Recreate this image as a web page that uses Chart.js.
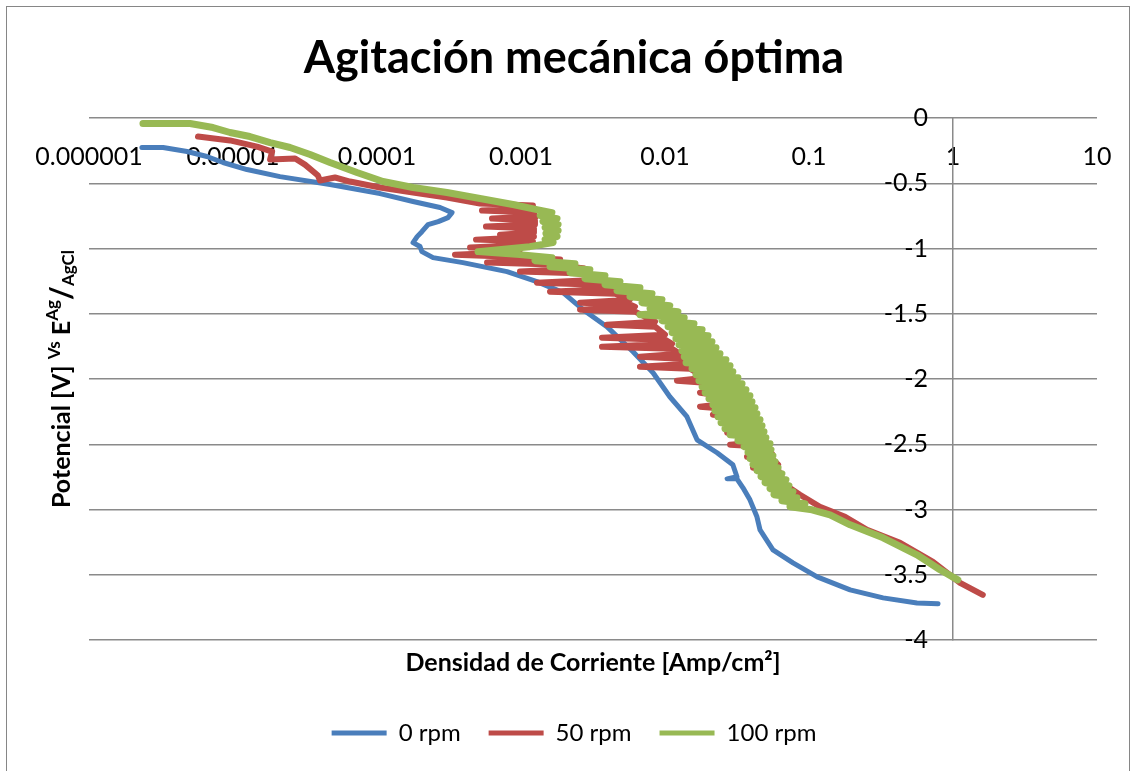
<!DOCTYPE html>
<html>
<head>
<meta charset="utf-8">
<title>Agitación mecánica óptima</title>
<script src="https://cdn.jsdelivr.net/npm/chart.js@4.4.1/dist/chart.umd.min.js"></script>
<style>
  html, body { margin: 0; padding: 0; background: #fff; }
  #wrap { width: 1135px; height: 771px; }
</style>
</head>
<body>
<div id="wrap"><canvas id="polarChart"></canvas></div>
<script>
// current density ticks (log axis) and their printed labels
const xTicks = [0.000001, 0.00001, 0.0001, 0.001, 0.01, 0.1, 1, 10];
const xTickLabels = ['0.000001', '0.00001', '0.0001', '0.001', '0.01', '0.1', '1', '10'];
const seriesNames = ['0 rpm', '50 rpm', '100 rpm'];

// 0 rpm: current density [A/cm2] and potential [V]
const current0 = [2.33e-6, 3.27e-6, 4.80e-6, 6.59e-6, 8.53e-6, 1.25e-5, 2.12e-5, 4.72e-5, 1.05e-4, 1.78e-4,
  2.74e-4, 3.32e-4, 3.11e-4, 2.66e-4, 2.26e-4, 2.05e-4, 1.90e-4, 1.78e-4, 1.99e-4, 2.05e-4,
  2.45e-4, 3.95e-4, 8.0e-4, 1.29e-3, 1.96e-3, 2.70e-3, 3.95e-3, 6.0e-3, 8.26e-3, 1.08e-2,
  1.42e-2, 1.67e-2, 2.30e-2, 2.96e-2, 3.16e-2, 2.70e-2, 3.16e-2, 3.48e-2, 3.89e-2, 4.35e-2,
  4.57e-2, 5.62e-2, 7.74e-2, 0.114, 0.193, 0.327, 0.562, 0.787];
const potential0 = [-0.226, -0.226, -0.257, -0.295, -0.341, -0.395, -0.449, -0.510, -0.579, -0.640,
  -0.686, -0.725, -0.763, -0.794, -0.817, -0.871, -0.909, -0.955, -0.985, -1.024,
  -1.070, -1.108, -1.177, -1.254, -1.338, -1.469, -1.599, -1.791, -1.952, -2.136,
  -2.289, -2.466, -2.565, -2.657, -2.749, -2.765, -2.765, -2.834, -2.926, -3.056,
  -3.156, -3.309, -3.409, -3.516, -3.616, -3.677, -3.716, -3.723];

// 50 rpm
const current50 = [5.71e-6, 9.53e-6, 1.47e-5, 1.87e-5, 1.81e-5, 2.70e-5, 3.16e-5, 3.89e-5, 4.02e-5, 5.11e-5,
  6.49e-5, 1.05e-4, 1.78e-4, 3.06e-4, 5.19e-4,
  1.21e-3, 1.21e-3, 5.36e-4, 1.21e-3, 1.27e-3, 6.29e-4, 1.25e-3, 1.25e-3, 5.71e-4, 1.23e-3,
  1.23e-3, 7.15e-4, 1.23e-3, 4.87e-4, 1.21e-3, 1.21e-3, 4.43e-4, 9.84e-4, 7.74e-4, 3.48e-4, 7.74e-4,
  1.87e-3, 5.81e-4, 1.87e-3, 2.78e-3, 9.84e-4, 2.78e-3, 3.43e-3, 1.29e-3, 3.43e-3,
  4.50e-3, 1.59e-3, 4.50e-3, 5.71e-3, 2.57e-3, 5.71e-3, 6.19e-3, 2.57e-3, 6.19e-3,
  8.53e-3, 3.95e-3, 8.53e-3, 1.0e-2, 3.65e-3, 1.0e-2, 1.12e-2, 3.65e-3, 1.12e-2,
  1.27e-2, 6.70e-3, 1.27e-2, 1.49e-2, 6.70e-3, 1.49e-2, 1.90e-2, 1.21e-2, 1.90e-2,
  2.22e-2, 1.75e-2, 2.22e-2, 2.61e-2, 1.75e-2, 2.61e-2, 3.89e-2, 2.15e-2, 3.89e-2,
  4.57e-2, 2.70e-2, 4.57e-2, 5.02e-2, 2.83e-2, 5.02e-2, 5.53e-2, 3.71e-2, 5.53e-2,
  6.10e-2, 4.08e-2, 6.10e-2,
  6.81e-2, 8.66e-2, 0.119, 0.178, 0.253, 0.429, 0.726, 1.12, 1.61];
const potential50 = [-0.142, -0.172, -0.219, -0.257, -0.318, -0.310, -0.357, -0.441, -0.479, -0.456,
  -0.487, -0.533, -0.571, -0.610, -0.656,
  -0.671, -0.694, -0.709, -0.725, -0.755, -0.771, -0.786, -0.817, -0.832, -0.847,
  -0.878, -0.894, -0.909, -0.932, -0.947, -0.970, -0.993, -1.008, -1.031, -1.047, -1.062,
  -1.085, -1.108, -1.124, -1.154, -1.177, -1.192, -1.239, -1.262, -1.277,
  -1.308, -1.331, -1.346, -1.392, -1.415, -1.430, -1.446, -1.469, -1.484,
  -1.561, -1.584, -1.599, -1.660, -1.683, -1.699, -1.730, -1.753, -1.768,
  -1.806, -1.829, -1.845, -1.883, -1.906, -1.921, -1.990, -2.013, -2.028,
  -2.082, -2.105, -2.120, -2.189, -2.212, -2.228, -2.251, -2.274, -2.289,
  -2.389, -2.412, -2.427, -2.481, -2.504, -2.519, -2.573, -2.596, -2.611,
  -2.657, -2.680, -2.695,
  -2.811, -2.887, -2.979, -3.056, -3.156, -3.255, -3.401, -3.562, -3.654];

// 100 rpm
const current100 = [2.37e-6, 5.03e-6, 7.26e-6, 9.53e-6, 1.31e-5, 1.81e-5, 2.49e-5, 3.43e-5, 4.72e-5, 7.26e-5,
  1.10e-4, 1.78e-4, 3.06e-4, 5.19e-4, 8.79e-4,
  1.29e-3, 1.64e-3, 1.36e-3, 1.78e-3, 1.42e-3, 1.81e-3, 1.47e-3, 1.81e-3, 1.49e-3, 1.78e-3,
  1.47e-3, 1.67e-3, 1.15e-3, 5.03e-4,
  9.84e-4, 1.64e-3, 1.25e-3, 2.37e-3, 1.59e-3, 3.01e-3, 2.19e-3, 3.83e-3, 2.78e-3, 4.87e-3,
  3.83e-3, 6.70e-3, 4.64e-3, 8.13e-3, 5.71e-3, 9.53e-3, 6.92e-3, 1.08e-2, 7.87e-3, 1.23e-2,
  6.70e-3, 1.36e-2, 9.53e-3, 1.59e-2, 1.05e-2, 1.81e-2, 1.12e-2, 1.99e-2, 1.19e-2, 2.12e-2,
  1.25e-2, 2.26e-2, 1.31e-2, 2.41e-2, 1.36e-2, 2.65e-2, 1.40e-2, 2.83e-2, 1.54e-2, 2.96e-2,
  1.64e-2, 3.21e-2, 1.72e-2, 3.43e-2, 1.81e-2, 3.65e-2, 1.90e-2, 3.89e-2, 2.02e-2, 4.02e-2,
  2.15e-2, 4.22e-2, 2.22e-2, 4.35e-2, 2.33e-2, 4.57e-2, 2.45e-2, 4.72e-2, 2.61e-2, 4.87e-2,
  2.83e-2, 5.02e-2, 3.21e-2, 5.36e-2, 3.54e-2, 5.45e-2, 3.77e-2, 5.62e-2, 3.89e-2, 5.81e-2,
  4.08e-2, 6.10e-2, 4.35e-2, 6.49e-2, 4.64e-2, 6.92e-2, 4.95e-2, 7.26e-2, 5.36e-2, 7.74e-2,
  5.71e-2, 8.25e-2, 6.49e-2, 9.38e-2, 7.38e-2, 0.105,
  0.140, 0.193, 0.327, 0.562, 0.813, 1.08];
const potential100 = [-0.042, -0.042, -0.073, -0.111, -0.142, -0.188, -0.226, -0.280, -0.341, -0.418,
  -0.487, -0.533, -0.571, -0.617, -0.663,
  -0.702, -0.725, -0.748, -0.771, -0.794, -0.817, -0.840, -0.863, -0.886, -0.909,
  -0.932, -0.955, -0.986, -1.024,
  -1.047, -1.070, -1.093, -1.116, -1.139, -1.162, -1.185, -1.208, -1.231, -1.254,
  -1.277, -1.300, -1.323, -1.346, -1.369, -1.392, -1.415, -1.438, -1.461, -1.484,
  -1.507, -1.530, -1.553, -1.576, -1.599, -1.622, -1.645, -1.668, -1.691, -1.714,
  -1.737, -1.760, -1.783, -1.806, -1.829, -1.852, -1.875, -1.898, -1.921, -1.944,
  -1.967, -1.990, -2.013, -2.036, -2.059, -2.082, -2.105, -2.128, -2.151, -2.174,
  -2.197, -2.220, -2.243, -2.266, -2.289, -2.312, -2.335, -2.358, -2.381, -2.404,
  -2.427, -2.450, -2.473, -2.496, -2.519, -2.542, -2.565, -2.588, -2.611, -2.634,
  -2.657, -2.680, -2.703, -2.726, -2.749, -2.772, -2.795, -2.818, -2.841, -2.864,
  -2.887, -2.910, -2.933, -2.956, -2.979, -3.002,
  -3.041, -3.117, -3.217, -3.347, -3.462, -3.539];

const seriesColors = ['#4A7EBB', '#BE4B48', '#98B954'];

// current density where the potential labels end, just left of the axis line at 1
const yLabelAnchor = 0.67;

function toPoints(xs, ys) {
  return xs.map((x, i) => ({ x: x, y: ys[i] }));
}

// y title with super/subscripts, drawn rotated left of the plot
const yTitleParts = [
  { text: 'Potencial [V] ', size: 25, shift: 0 },
  { text: 'Vs', size: 17, shift: -7 },
  { text: ' E', size: 25, shift: 0 },
  { text: 'Ag', size: 17, shift: -9 },
  { text: '/', size: 30, shift: 0 },
  { text: 'AgCl', size: 17, shift: 7 }
];

const framePlugin = {
  id: 'frame',
  beforeDraw(chart) {
    const c = chart.ctx;
    c.save();
    c.fillStyle = '#fff';
    c.fillRect(0, 0, chart.width, chart.height);
    c.strokeStyle = '#868686';
    c.lineWidth = 1;
    c.strokeRect(6.5, 6.5, 1123, 800);
    c.restore();
  },
  afterDraw(chart) {
    const c = chart.ctx;
    const area = chart.chartArea;
    c.save();
    c.fillStyle = '#000';
    c.textBaseline = 'middle';
    let total = 0;
    yTitleParts.forEach(p => {
      c.font = 'bold ' + p.size + 'px Lato, sans-serif';
      p.w = c.measureText(p.text).width;
      total += p.w;
    });
    c.translate(62, (area.top + area.bottom) / 2);
    c.rotate(-Math.PI / 2);
    let pos = -total / 2;
    yTitleParts.forEach(p => {
      c.font = 'bold ' + p.size + 'px Lato, sans-serif';
      c.fillText(p.text, pos, p.shift);
      pos += p.w;
    });
    c.restore();
  }
};

Chart.defaults.font.family = 'Lato, sans-serif';
Chart.defaults.color = '#000';

const ctx = document.getElementById('polarChart').getContext('2d');
const polarChart = new Chart(ctx, {
  type: 'scatter',
  data: {
    datasets: [
      { label: seriesNames[0], data: toPoints(current0, potential0), borderColor: seriesColors[0], backgroundColor: seriesColors[0], borderWidth: 5, showLine: true, order: 3 },
      { label: seriesNames[1], data: toPoints(current50, potential50), borderColor: seriesColors[1], backgroundColor: seriesColors[1], borderWidth: 6, showLine: true, order: 2 },
      { label: seriesNames[2], data: toPoints(current100, potential100), borderColor: seriesColors[2], backgroundColor: seriesColors[2], borderWidth: 7, showLine: true, order: 1 }
    ]
  },
  options: {
    responsive: true,
    maintainAspectRatio: false,
    animation: false,
    elements: {
      point: { radius: 0, hoverRadius: 0 },
      line: { borderCapStyle: 'round', borderJoinStyle: 'round', tension: 0 }
    },
    layout: { padding: { left: 51, right: 38, top: 0, bottom: 16 } },
    scales: {
      x: {
        type: 'logarithmic',
        position: { y: 0 },
        min: 0.000001,
        max: 10,
        afterBuildTicks: (scale) => { scale.ticks = xTicks.map(v => ({ value: v })); },
        ticks: {
          callback: (value, index) => xTickLabels[index],
          font: { size: 25 },
          padding: 16,
          autoSkip: false,
          maxRotation: 0
        },
        grid: { display: false },
        border: { display: false }
      },
      // gridlines plus the vertical axis line crossing at 1
      y: {
        min: -4,
        max: 0,
        position: { x: 1 },
        ticks: { display: false, stepSize: 0.5 },
        grid: { color: '#8a8a8a', lineWidth: 1.5, drawTicks: false },
        border: { color: '#8a8a8a', width: 1.5 }
      },
      // potential labels, right-aligned a little left of the axis line
      yLabels: {
        axis: 'y',
        min: -4,
        max: 0,
        position: { x: yLabelAnchor },
        ticks: {
          stepSize: 0.5,
          font: { size: 25 },
          callback: (value) => String(Math.round(value * 10) / 10)
        },
        grid: { display: false },
        border: { display: false }
      },
      yTitleSpace: {
        axis: 'y',
        position: 'left',
        grid: { display: false },
        border: { display: false },
        ticks: { display: false },
        afterFit: (scale) => { scale.width = 38; }
      }
    },
    plugins: {
      title: {
        display: true,
        text: 'Agitación mecánica óptima',
        font: { size: 45, weight: 'bold' },
        padding: { top: 31, bottom: 33 }
      },
      subtitle: {
        display: true,
        position: 'bottom',
        fullSize: false,
        text: 'Densidad de Corriente [Amp/cm²]',
        font: { size: 25, weight: 'bold' },
        padding: { top: 8, bottom: 15 }
      },
      legend: {
        position: 'bottom',
        weight: 2000,
        labels: {
          boxWidth: 55,
          boxHeight: 5,
          padding: 28,
          font: { size: 24 },
          sort: (a, b) => a.datasetIndex - b.datasetIndex,
          generateLabels: (chart) => Chart.defaults.plugins.legend.labels.generateLabels(chart)
            .map(item => Object.assign(item, { lineWidth: 0 }))
        }
      },
      tooltip: { enabled: false }
    }
  },
  plugins: [framePlugin]
});
</script>
</body>
</html>
